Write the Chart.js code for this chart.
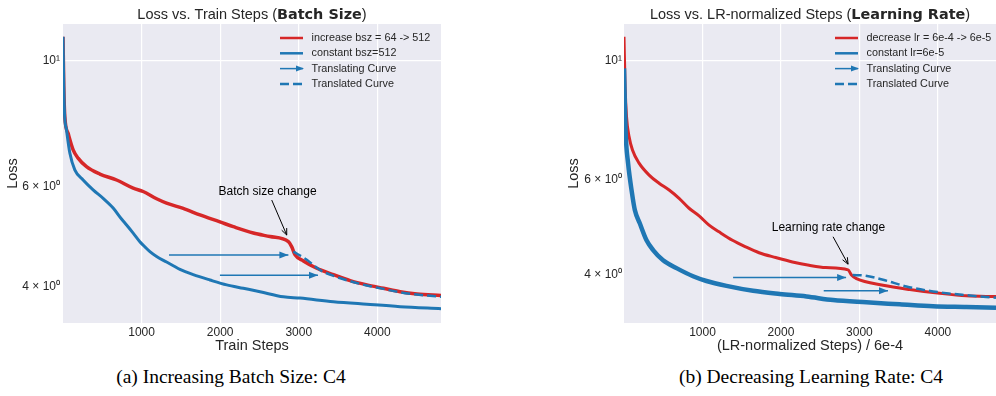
<!DOCTYPE html>
<html lang="en">
<head>
<meta charset="UTF-8" />
<title>Loss vs. steps: batch size and learning rate</title>
<script src="https://cdn.jsdelivr.net/npm/chart.js"></script>
<style>
  body{margin:0;background:#fff;width:996px;height:396px;position:relative;overflow:hidden}
  canvas{position:absolute;top:0}
  #bszChart{left:0}
  #lrChart{left:560px}
  .caption{position:absolute;top:365px;transform:translateX(-50%);white-space:nowrap;
    font-family:'Liberation Serif','Times New Roman',serif;font-size:19.5px;line-height:24px;color:#000}
</style>
</head>
<body>
<canvas id="bszChart" width="500" height="360"></canvas>
<canvas id="lrChart" width="436" height="360"></canvas>
<div class="caption" style="left:231px">(a) Increasing Batch Size: C4</div>
<div class="caption" style="left:811px">(b) Decreasing Learning Rate: C4</div>

<script>
/* ---------- values ---------- */
const stepTicks = [1000, 2000, 3000, 4000];
const lossTicks = [4, 6, 10];
const lossTickLabels = ['4 × 10⁰', '6 × 10⁰', '10¹'];

// (a) batch size
const bszIncStep  = [0, 10, 23, 65, 129, 192, 299, 469, 682, 893, 1020, 1191, 1318, 1530, 1743, 1997, 2167, 2422, 2634, 2868, 2911, 2953, 3059, 3229, 3441, 3654, 3866, 4078, 4290, 4503, 4810];
const bszIncLoss  = [11.0, 9.0, 7.96, 7.44, 6.96, 6.73, 6.50, 6.31, 6.16, 5.96, 5.88, 5.71, 5.61, 5.49, 5.35, 5.20, 5.10, 4.97, 4.90, 4.80, 4.70, 4.55, 4.44, 4.31, 4.20, 4.10, 4.03, 3.975, 3.92, 3.885, 3.86];
const bszConstStep = [0, 10, 19, 45, 87, 150, 256, 383, 511, 638, 745, 809, 893, 978, 1042, 1106, 1191, 1318, 1403, 1488, 1657, 1870, 2083, 2294, 2507, 2804, 3016, 3441, 3866, 4290, 4810];
const bszConstLoss = [11.0, 8.99, 8.07, 7.54, 6.87, 6.42, 6.16, 5.92, 5.72, 5.50, 5.26, 5.135, 4.97, 4.80, 4.70, 4.61, 4.52, 4.42, 4.355, 4.29, 4.20, 4.11, 4.03, 3.975, 3.92, 3.84, 3.82, 3.765, 3.726, 3.69, 3.66];
const bszShiftStep = [2931, 3102, 3271, 3484, 3654, 3866, 4078, 4290, 4503, 4810];
const bszShiftLoss = [4.61, 4.46, 4.28, 4.16, 4.09, 4.02, 3.965, 3.91, 3.875, 3.84];
const bszArrows = [[[1349, 4.55], [2868, 4.55]], [[1997, 4.19], [3245, 4.19]]];
const bszLabels = ['increase bsz = 64 -> 512', 'constant bsz=512', 'Translating Curve', 'Translated Curve'];

// (b) learning rate
const lrDecStep  = [0, 14, 32, 65, 108, 192, 320, 447, 575, 702, 829, 957, 1084, 1211, 1382, 1552, 1721, 1934, 2146, 2358, 2571, 2855, 2898, 2962, 3301, 3641, 4023, 4363, 4740];
const lrDecLoss  = [11.06, 8.93, 7.86, 7.21, 6.81, 6.44, 6.12, 5.91, 5.74, 5.54, 5.31, 5.14, 4.94, 4.80, 4.63, 4.50, 4.39, 4.30, 4.22, 4.16, 4.12, 4.08, 3.99, 3.93, 3.82, 3.75, 3.69, 3.65, 3.64];
const lrConstStep = [0, 10, 23, 52, 96, 138, 201, 287, 371, 498, 669, 880, 1051, 1306, 1645, 1985, 2325, 2664, 3089, 3513, 3938, 4363, 4740];
const lrConstLoss = [9.66, 8.32, 7.21, 6.44, 5.74, 5.27, 4.98, 4.63, 4.44, 4.25, 4.11, 3.97, 3.89, 3.81, 3.73, 3.68, 3.64, 3.585, 3.55, 3.52, 3.49, 3.48, 3.47];
const lrShiftStep = [2914, 3067, 3301, 3599, 3938, 4363, 4740];
const lrShiftLoss = [3.99, 3.98, 3.91, 3.80, 3.72, 3.66, 3.62];
const lrArrows = [[[1390, 3.95], [2830, 3.95]], [[2545, 3.73], [3364, 3.73]]];
const lrLabels = ['decrease lr = 6e-4 -> 6e-5', 'constant lr=6e-5', 'Translating Curve', 'Translated Curve'];

// annotations: text centre, arrow tail, arrow tip (data coords)
const bszNote = {text: 'Batch size change', at: [2603, 5.88], from: [2656, 5.68], to: [2847, 4.93]};
const lrNote  = {text: 'Learning rate change', at: [2605, 4.886], from: [2664, 4.70], to: [2855, 4.18]};

/* ---------- styling ---------- */
const RED = '#d62728', BLUE = '#1f77b4', INK = '#262626';
const SANS = "'Liberation Sans', Arial, sans-serif";

const pts = (xs, ys) => xs.map((x, i) => ({x, y: ys[i]}));

/* background, arrow heads, note, legend, mixed-weight title */
const panelDecor = {
  id: 'panelDecor',
  beforeDraw(chart) {
    const {ctx, chartArea: a} = chart;
    ctx.save();
    ctx.fillStyle = '#eaeaf2';
    ctx.fillRect(a.left, a.top, a.right - a.left, a.bottom - a.top);
    ctx.restore();
  },
  afterDatasetsDraw(chart, args, o) {
    const {ctx} = chart;
    const sx = chart.scales.x, sy = chart.scales.y;
    chart.data.datasets.forEach((ds, i) => {
      if (!ds.arrowHead) return;
      const d = chart.getDatasetMeta(i).data;
      const tip = d[d.length - 1], prev = d[d.length - 2];
      ctx.save();
      ctx.translate(tip.x, tip.y);
      ctx.rotate(Math.atan2(tip.y - prev.y, tip.x - prev.x));
      ctx.fillStyle = ds.borderColor;
      ctx.beginPath(); ctx.moveTo(0, 0); ctx.lineTo(-9, -3.5); ctx.lineTo(-9, 3.5); ctx.closePath(); ctx.fill();
      ctx.restore();
    });

    const n = o.note;
    const P = p => [sx.getPixelForValue(p[0]), sy.getPixelForValue(p[1])];
    const [tx, ty] = P(n.at), [ax, ay] = P(n.from), [bx, by] = P(n.to);
    ctx.save();
    ctx.fillStyle = '#000';
    ctx.font = '12px ' + SANS;
    ctx.textAlign = 'center'; ctx.textBaseline = 'middle';
    ctx.fillText(n.text, tx, ty);
    ctx.strokeStyle = '#000'; ctx.lineWidth = 1;
    ctx.beginPath(); ctx.moveTo(ax, ay); ctx.lineTo(bx, by); ctx.stroke();
    const ang = Math.atan2(by - ay, bx - ax);
    ctx.beginPath();
    ctx.moveTo(bx - 7 * Math.cos(ang - 0.4), by - 7 * Math.sin(ang - 0.4));
    ctx.lineTo(bx, by);
    ctx.lineTo(bx - 7 * Math.cos(ang + 0.4), by - 7 * Math.sin(ang + 0.4));
    ctx.stroke();
    ctx.restore();
  },
  afterDraw(chart, args, o) {
    const {ctx, chartArea: a} = chart;
    ctx.save();
    // title
    ctx.textBaseline = 'middle';
    ctx.fillStyle = INK;
    const fonts = {n: '14.5px ' + SANS, b: "bold 14.4px 'DejaVu Sans', sans-serif"};
    let total = 0;
    o.title.forEach(([t, w]) => { ctx.font = fonts[w]; total += ctx.measureText(t).width; });
    let x = (a.left + a.right) / 2 - total / 2;
    o.title.forEach(([t, w]) => { ctx.font = fonts[w]; ctx.textAlign = 'left'; ctx.fillText(t, x, 15); x += ctx.measureText(t).width; });

    // legend
    const lg = o.legend;
    ctx.font = '10.8px ' + SANS;
    lg.items.forEach((it, k) => {
      const y = lg.y + k * 15.3;
      ctx.strokeStyle = it.color;
      ctx.lineWidth = it.kind === 'arrow' ? 1.5 : 2.5;
      ctx.setLineDash(it.kind === 'dash' ? [9, 4] : []);
      ctx.beginPath(); ctx.moveTo(lg.x, y); ctx.lineTo(lg.x + 23, y); ctx.stroke();
      ctx.setLineDash([]);
      if (it.kind === 'arrow') {
        ctx.fillStyle = it.color;
        ctx.beginPath(); ctx.moveTo(lg.x + 24, y); ctx.lineTo(lg.x + 16, y - 3); ctx.lineTo(lg.x + 16, y + 3); ctx.closePath(); ctx.fill();
      }
      ctx.fillStyle = INK;
      ctx.fillText(it.label, lg.x + 31.5, y);
    });
    ctx.restore();
  }
};

function lossChart(id, c) {
  const datasets = [
    {label: c.labels[0], data: pts(c.incX, c.incY), borderColor: RED, borderWidth: c.redW, order: 3},
    {label: c.labels[1], data: pts(c.constX, c.constY), borderColor: BLUE, borderWidth: c.blueW, order: 2},
    {label: c.labels[3], data: pts(c.shiftX, c.shiftY), borderColor: BLUE, borderWidth: 2.5, borderDash: [9, 4], order: 1},
    ...c.arrows.map(ar => ({label: c.labels[2], data: ar.map(p => ({x: p[0], y: p[1]})), borderColor: BLUE, borderWidth: 1.5, arrowHead: true, order: 0}))
  ].map(d => Object.assign({pointRadius: 0, cubicInterpolationMode: 'monotone', borderJoinStyle: 'round', clip: 0, fill: false}, d));

  return new Chart(document.getElementById(id), {
    type: 'line',
    data: {datasets},
    plugins: [panelDecor],
    options: {
      responsive: false, animation: false, events: [],
      layout: {padding: {top: 24, right: c.padRight, left: 0, bottom: 0}},
      plugins: {
        legend: {display: false}, tooltip: {enabled: false},
        panelDecor: {
          title: c.title, note: c.note,
          legend: {x: c.legendX, y: 38, items: [
            {label: c.labels[0], color: RED, kind: 'line'},
            {label: c.labels[1], color: BLUE, kind: 'line'},
            {label: c.labels[2], color: BLUE, kind: 'arrow'},
            {label: c.labels[3], color: BLUE, kind: 'dash'}
          ]}
        }
      },
      scales: {
        x: {
          type: 'linear', min: 0, max: c.xMax,
          afterBuildTicks: s => { s.ticks = stepTicks.map(v => ({value: v})); },
          afterFit: s => { s.height = 37; },
          grid: {color: '#ffffff', lineWidth: 1.2, drawTicks: false},
          border: {display: false},
          ticks: {color: INK, font: {size: 12, family: SANS}, padding: 2, maxRotation: 0, autoSkip: false,
                  callback: v => String(v)},
          title: {display: true, text: c.xLabel, color: INK, font: {size: 14.5, family: SANS}, padding: {top: 0, bottom: 5}}
        },
        y: {
          type: 'logarithmic', min: c.yMin, max: c.yMax,
          afterBuildTicks: s => { s.ticks = lossTicks.map(v => ({value: v})); },
          afterFit: s => { s.width = c.yAxisW; },
          grid: {color: g => (g.tick && g.tick.value === 10) ? '#ffffff' : 'rgba(0,0,0,0)', lineWidth: 1.2, drawTicks: false},
          border: {display: false},
          ticks: {color: INK, font: {size: 12, family: SANS}, padding: c.tickPad, autoSkip: false,
                  callback: v => lossTickLabels[lossTicks.indexOf(v)]},
          title: {display: true, text: 'Loss', color: INK, font: {size: 14.5, family: SANS}, padding: {top: c.yTitlePad, bottom: 0}}
        }
      }
    }
  });
}

lossChart('bszChart', {
  incX: bszIncStep, incY: bszIncLoss, constX: bszConstStep, constY: bszConstLoss,
  shiftX: bszShiftStep, shiftY: bszShiftLoss, arrows: bszArrows, labels: bszLabels, note: bszNote,
  title: [['Loss vs. Train Steps (', 'n'], ['Batch Size', 'b'], [')', 'n']],
  xLabel: 'Train Steps', xMax: 4810, yMin: 3.454, yMax: 11.58,
  redW: 3.5, blueW: 3, padRight: 59, yAxisW: 63, tickPad: 3, yTitlePad: 4, legendX: 280
});

lossChart('lrChart', {
  incX: lrDecStep, incY: lrDecLoss, constX: lrConstStep, constY: lrConstLoss,
  shiftX: lrShiftStep, shiftY: lrShiftLoss, arrows: lrArrows, labels: lrLabels, note: lrNote,
  title: [['Loss vs. LR-normalized Steps (', 'n'], ['Learning Rate', 'b'], [')', 'n']],
  xLabel: '(LR-normalized Steps) / 6e-4', xMax: 4740, yMin: 3.25, yMax: 11.68,
  redW: 3, blueW: 4.5, padRight: 0, yAxisW: 64, tickPad: 2, yTitlePad: 5.3, legendX: 275
});
</script>
</body>
</html>
